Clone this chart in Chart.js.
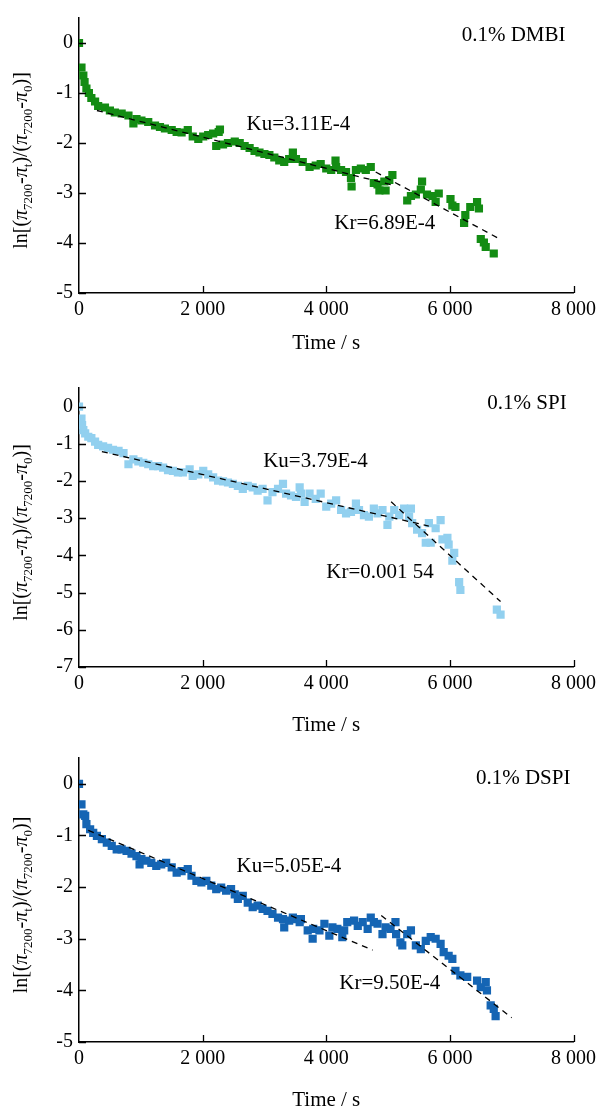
<!DOCTYPE html>
<html>
<head>
<meta charset="utf-8">
<script src="https://cdn.jsdelivr.net/npm/chart.js@4.4.1/dist/chart.umd.min.js"></script>
<style>
  body { margin: 0; background: #fff; }
  canvas { position: absolute; left: 0; display: block; }
</style>
</head>
<body>
<canvas id="c1" width="601" height="370" style="top:0"></canvas>
<canvas id="c2" width="601" height="370" style="top:370px"></canvas>
<canvas id="c3" width="601" height="373" style="top:740px"></canvas>
<script>
// shared ticks
const xTicks = [0, 2000, 4000, 6000, 8000];
const yTicks5 = [-5, -4, -3, -2, -1, 0];
const yTicks7 = [-7, -6, -5, -4, -3, -2, -1, 0];

// 0.1% DMBI
const dmbiTime = [0, 40, 70, 90, 120, 160, 200, 260, 310, 420, 500, 580, 690, 800, 880, 930, 1010, 1120, 1230, 1310,
  1390, 1500, 1580, 1660, 1760, 1840, 1930, 2010, 2090, 2170, 2220, 2260, 2280, 2330, 2410, 2520, 2600, 2680, 2760, 2840,
  2920, 3000, 3080, 3160, 3240, 3320, 3400, 3460, 3510, 3620, 3730, 3830, 3910, 4000, 4080, 4150, 4160, 4240, 4320, 4400,
  4410, 4480, 4560, 4640, 4720, 4770, 4830, 4860, 4940, 4960, 5020, 5070, 5310, 5370, 5450, 5530, 5550, 5630, 5720, 5770,
  5820, 6010, 6040, 6090, 6230, 6250, 6330, 6440, 6470, 6500, 6550, 6580, 6710];
const dmbiLn = [0, -0.49, -0.65, -0.78, -0.91, -1.00, -1.10, -1.17, -1.26, -1.29, -1.35, -1.39, -1.41, -1.45, -1.61, -1.52, -1.55, -1.58, -1.65, -1.68,
  -1.71, -1.74, -1.78, -1.79, -1.74, -1.87, -1.92, -1.87, -1.84, -1.81, -2.06, -1.78, -1.73, -2.03, -2.00, -1.97, -2.00, -2.06, -2.10, -2.16,
  -2.19, -2.22, -2.24, -2.29, -2.35, -2.38, -2.32, -2.19, -2.32, -2.38, -2.48, -2.45, -2.42, -2.51, -2.54, -2.35, -2.48, -2.54, -2.58, -2.70,
  -2.87, -2.54, -2.51, -2.54, -2.48, -2.80, -2.83, -2.95, -2.77, -2.95, -2.74, -2.64, -3.15, -3.06, -3.03, -2.93, -2.77, -3.03, -3.06, -3.18,
  -3.01, -3.12, -3.25, -3.28, -3.60, -3.44, -3.28, -3.18, -3.31, -3.92, -3.99, -4.08, -4.21];
const dmbiKuTime = [290, 5100];
const dmbiKuLn = [-1.35, -2.85];
const dmbiKrTime = [4800, 6790];
const dmbiKrLn = [-2.58, -3.91];

// 0.1% SPI
const spiTime = [0, 40, 50, 70, 100, 150, 200, 260, 310, 390, 470, 550, 640, 720, 800, 880, 960, 1040, 1120, 1200,
  1280, 1360, 1440, 1520, 1600, 1680, 1790, 1840, 1930, 2010, 2090, 2170, 2250, 2330, 2410, 2490, 2570, 2650, 2730, 2810,
  2890, 2970, 3050, 3130, 3220, 3300, 3350, 3430, 3510, 3570, 3590, 3650, 3730, 3830, 3910, 4000, 4080, 4160, 4240, 4320,
  4400, 4480, 4530, 4610, 4690, 4770, 4830, 4910, 4990, 5020, 5100, 5180, 5260, 5340, 5370, 5390, 5470, 5550, 5610, 5660,
  5690, 5770, 5850, 5880, 5960, 5980, 6040, 6070, 6150, 6170, 6760, 6820];
const spiLn = [0, -0.32, -0.50, -0.63, -0.72, -0.81, -0.85, -0.94, -1.03, -1.07, -1.11, -1.16, -1.19, -1.25, -1.55, -1.42, -1.47, -1.51, -1.55, -1.60,
  -1.60, -1.64, -1.71, -1.73, -1.77, -1.77, -1.69, -1.86, -1.82, -1.73, -1.82, -1.90, -1.99, -2.01, -2.04, -2.08, -2.13, -2.21, -2.13, -2.17,
  -2.26, -2.21, -2.52, -2.30, -2.21, -2.08, -2.34, -2.39, -2.43, -2.17, -2.34, -2.56, -2.34, -2.48, -2.34, -2.69, -2.61, -2.52, -2.78, -2.87,
  -2.83, -2.61, -2.78, -2.92, -2.96, -2.74, -2.87, -2.78, -3.18, -2.96, -2.78, -2.92, -2.74, -2.96, -2.74, -3.13, -3.31, -3.40, -3.66, -3.13,
  -3.66, -3.27, -3.05, -3.57, -3.53, -3.71, -4.14, -3.93, -4.72, -4.93, -5.46, -5.59];
const spiKuTime = [370, 5660];
const spiKuLn = [-1.21, -3.21];
const spiKrTime = [5050, 6820];
const spiKrLn = [-2.56, -5.24];

// 0.1% DSPI
const dspiTime = [0, 40, 70, 100, 120, 180, 230, 290, 370, 450, 530, 610, 690, 770, 850, 930, 980, 1010, 1090, 1170,
  1250, 1330, 1410, 1500, 1580, 1660, 1760, 1820, 1900, 1980, 2060, 2140, 2220, 2300, 2380, 2460, 2520, 2570, 2650, 2730,
  2810, 2890, 2970, 3050, 3130, 3220, 3300, 3320, 3400, 3460, 3480, 3570, 3590, 3700, 3780, 3790, 3890, 3970, 4050, 4100,
  4180, 4260, 4290, 4340, 4450, 4510, 4590, 4670, 4720, 4770, 4830, 4910, 4960, 5040, 5120, 5130, 5200, 5230, 5310, 5370,
  5450, 5530, 5610, 5690, 5770, 5850, 5900, 5980, 6040, 6090, 6170, 6280, 6440, 6500, 6580, 6600, 6660, 6710, 6740];
const dspiLn = [0, -0.40, -0.59, -0.62, -0.78, -0.88, -0.95, -1.01, -1.07, -1.14, -1.20, -1.27, -1.27, -1.30, -1.35, -1.40, -1.56, -1.46, -1.49, -1.53,
  -1.59, -1.56, -1.53, -1.62, -1.72, -1.69, -1.65, -1.78, -1.88, -1.91, -1.88, -1.97, -2.04, -2.01, -2.07, -2.04, -2.14, -2.23, -2.17, -2.30,
  -2.39, -2.36, -2.42, -2.46, -2.52, -2.59, -2.62, -2.78, -2.65, -2.59, -2.62, -2.68, -2.62, -2.84, -3.00, -2.81, -2.84, -2.71, -2.94, -2.78,
  -2.81, -2.97, -2.84, -2.68, -2.65, -2.75, -2.68, -2.81, -2.59, -2.68, -2.71, -2.91, -2.78, -2.81, -2.68, -2.91, -3.07, -3.13, -2.91, -2.84,
  -3.13, -3.20, -3.04, -2.97, -3.00, -3.10, -3.26, -3.33, -3.39, -3.62, -3.71, -3.74, -3.81, -3.94, -3.84, -4.00, -4.29, -4.36, -4.50];
const dspiKuTime = [150, 4750];
const dspiKuLn = [-0.90, -3.22];
const dspiKrTime = [4890, 7000];
const dspiKrLn = [-2.55, -4.53];

const serif = '"Liberation Serif", "Times New Roman", serif';

function pts(xs, ys) {
  return xs.map((x, i) => ({ x: x, y: ys[i] }));
}

function fmt(v) {
  return String(v).replace(/\B(?=(\d{3})+(?!\d))/g, ' ');
}

// pieces of the y title: [text, kind]  n = normal, p = pi, s = subscript
const yTitle = [['ln[(', 'n'], ['π', 'p'], ['7200', 's'], ['-', 'n'], ['π', 'p'], ['t', 's'], [')/(', 'n'],
  ['π', 'p'], ['7200', 's'], ['-', 'n'], ['π', 'p'], ['0', 's'], [')]', 'n']];

function makeDecor(notes) {
  return {
    id: 'decor',
    afterDraw(chart) {
      const ctx = chart.ctx;
      const xs = chart.scales.x, ys = chart.scales.y;
      const a = chart.chartArea;
      ctx.save();
      // inward tick marks
      ctx.strokeStyle = '#000';
      ctx.lineWidth = 1.3;
      ctx.beginPath();
      xs.ticks.forEach(t => {
        if (t.value === 0) return;
        const px = Math.round(xs.getPixelForValue(t.value)) + 0.5;
        ctx.moveTo(px, a.bottom);
        ctx.lineTo(px, a.bottom - 7);
      });
      ys.ticks.forEach(t => {
        const py = Math.round(ys.getPixelForValue(t.value)) + 0.5;
        ctx.moveTo(a.left, py);
        ctx.lineTo(a.left + 7, py);
      });
      ctx.stroke();

      // text notes
      ctx.fillStyle = '#000';
      ctx.font = '21px ' + serif;
      ctx.textBaseline = 'middle';
      notes.forEach(n => {
        ctx.textAlign = n.align;
        ctx.fillText(n.text, xs.getPixelForValue(n.x), ys.getPixelForValue(n.y));
      });

      // y axis title with subscripts
      const fonts = { n: '20px ' + serif, p: 'italic 20px ' + serif, s: '13px ' + serif };
      let total = 0;
      const widths = yTitle.map(p => {
        ctx.font = fonts[p[1]];
        const w = ctx.measureText(p[0]).width;
        total += w;
        return w;
      });
      ctx.translate(27, (a.top + a.bottom) / 2 + 5);
      ctx.rotate(-Math.PI / 2);
      ctx.textAlign = 'left';
      ctx.textBaseline = 'alphabetic';
      let cx = -total / 2;
      yTitle.forEach((p, i) => {
        ctx.font = fonts[p[1]];
        ctx.fillText(p[0], cx, p[1] === 's' ? 5 : 0);
        cx += widths[i];
      });
      ctx.restore();
    }
  };
}

function makeChart(id, cfg) {
  const scatter = {
    type: 'scatter',
    data: pts(cfg.time, cfg.ln),
    pointStyle: 'rect',
    pointRadius: 5.8,
    pointHoverRadius: 5.8,
    borderWidth: 0,
    backgroundColor: cfg.color,
    order: 2
  };
  const fit = (xs, ys) => ({
    type: 'scatter',
    data: pts(xs, ys),
    showLine: true,
    pointRadius: 0,
    borderColor: '#000',
    borderWidth: 1.3,
    borderDash: [6, 5],
    fill: false,
    order: 1
  });

  return new Chart(document.getElementById(id), {
    type: 'scatter',
    data: { datasets: [fit(cfg.kuTime, cfg.kuLn), fit(cfg.krTime, cfg.krLn), scatter] },
    options: {
      responsive: false,
      animation: false,
      devicePixelRatio: 1,
      layout: { padding: { top: cfg.padTop, right: 26, left: 0, bottom: 0 } },
      plugins: { legend: { display: false }, tooltip: { enabled: false } },
      scales: {
        x: {
          type: 'linear',
          min: 0,
          max: 8000,
          afterBuildTicks: s => { s.ticks = xTicks.map(v => ({ value: v })); },
          afterFit: s => { s.height = cfg.xAxisH; },
          grid: { display: false, drawTicks: false },
          border: { display: true, color: '#000', width: 1.5 },
          ticks: {
            color: '#000',
            font: { family: serif, size: 20 },
            padding: 5,
            maxRotation: 0,
            autoSkip: false,
            callback: v => fmt(v)
          },
          title: {
            display: true,
            text: 'Time / s',
            color: '#000',
            font: { family: serif, size: 21 },
            padding: { top: 0, bottom: cfg.titlePad }
          }
        },
        y: {
          type: 'linear',
          min: cfg.yTicks[0],
          max: 0.5,
          afterBuildTicks: s => { s.ticks = cfg.yTicks.map(v => ({ value: v })); },
          afterFit: s => { s.width = 79; },
          grid: { display: false, drawTicks: false },
          border: { display: true, color: '#000', width: 1.5 },
          ticks: {
            color: '#000',
            font: { family: serif, size: 20 },
            padding: 6,
            autoSkip: false,
            callback: v => String(v)
          }
        }
      }
    },
    plugins: [makeDecor(cfg.notes)]
  });
}

makeChart('c1', {
  time: dmbiTime, ln: dmbiLn, kuTime: dmbiKuTime, kuLn: dmbiKuLn, krTime: dmbiKrTime, krLn: dmbiKrLn,
  color: '#138c13', yTicks: yTicks5, padTop: 8, xAxisH: 77, titlePad: 14,
  notes: [
    { text: '0.1% DMBI', x: 7870, y: 0.15, align: 'right' },
    { text: 'Ku=3.11E-4', x: 2710, y: -1.62, align: 'left' },
    { text: 'Kr=6.89E-4', x: 4130, y: -3.60, align: 'left' }
  ]
});

makeChart('c2', {
  time: spiTime, ln: spiLn, kuTime: spiKuTime, kuLn: spiKuLn, krTime: spiKrTime, krLn: spiKrLn,
  color: '#92d0ef', yTicks: yTicks7, padTop: 13, xAxisH: 73, titlePad: 2,
  notes: [
    { text: '0.1% SPI', x: 7890, y: 0.08, align: 'right' },
    { text: 'Ku=3.79E-4', x: 2980, y: -1.47, align: 'left' },
    { text: 'Kr=0.001 54', x: 4000, y: -4.45, align: 'left' }
  ]
});

makeChart('c3', {
  time: dspiTime, ln: dspiLn, kuTime: dspiKuTime, kuLn: dspiKuLn, krTime: dspiKrTime, krLn: dspiKrLn,
  color: '#1565b4', yTicks: yTicks5, padTop: 17, xAxisH: 71, titlePad: 0,
  notes: [
    { text: '0.1% DSPI', x: 7950, y: 0.11, align: 'right' },
    { text: 'Ku=5.05E-4', x: 2550, y: -1.61, align: 'left' },
    { text: 'Kr=9.50E-4', x: 4210, y: -3.87, align: 'left' }
  ]
});
</script>
</body>
</html>
